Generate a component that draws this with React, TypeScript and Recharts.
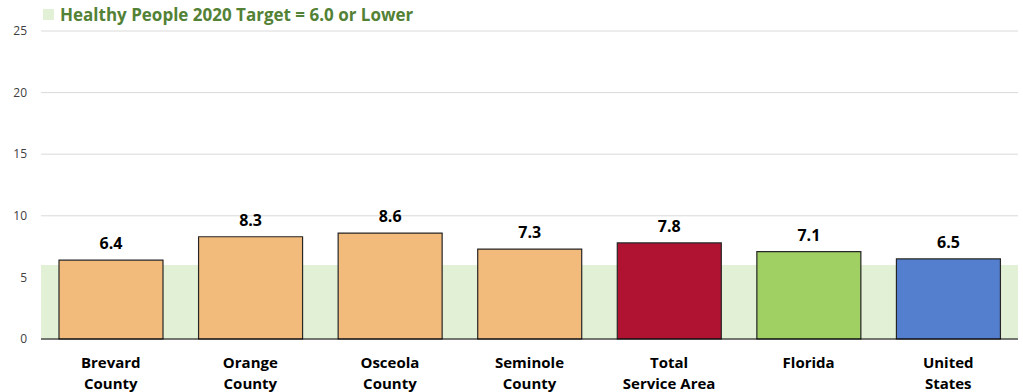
import React from "react";
import {BarChart, Bar, CartesianGrid, Cell, LabelList, ReferenceArea, XAxis, YAxis} from "recharts";

const regions = ["Brevard County", "Orange County", "Osceola County", "Seminole County", "Total Service Area", "Florida", "United States"];
const labelLines = [["Brevard", "County"], ["Orange", "County"], ["Osceola", "County"], ["Seminole", "County"], ["Total", "Service Area"], ["Florida"], ["United", "States"]];
const rates = [6.4, 8.3, 8.6, 7.3, 7.8, 7.1, 6.5];
const barColors = ["#F3BB7B", "#F3BB7B", "#F3BB7B", "#F3BB7B", "#B01232", "#A0D063", "#547FCF"];
const yTicks = [0, 5, 10, 15, 20, 25];
const target = 6;

const data = regions.map((name, i) => ({name, value: rates[i]}));

const FONT = "'Open Sans', 'Noto Sans', sans-serif";

const CategoryTick = (props: any) => {
    const {x, y, index} = props;
    const lines = labelLines[index] || [];
    return <g>
        {lines.map((l, i) => (
            <text key={i} x={x} y={y + 21 + i * 21} textAnchor="middle" fontFamily={FONT}
                  fontSize={15} fontWeight="bold" fill="#000">{l}</text>
        ))}
    </g>
}

const App: React.FC = () => {
    return <div style={{position: "absolute", left: 0, top: 0, width: 1023, height: 392, background: "#fff"}}>
        <div style={{position: "absolute", left: 43, top: 3, display: "flex", alignItems: "center",
            fontFamily: FONT, fontWeight: "bold", fontSize: 17, color: "#538135", zIndex: 2}}>
            <span style={{display: "inline-block", width: 11, height: 11, background: "#E2F0D5", marginRight: 6}} />
            Healthy People 2020 Target = 6.0 or Lower
        </div>
        <BarChart width={1023} height={392} data={data} barSize={104}
                  margin={{top: 31, right: 5, left: 0, bottom: 0}}>
            <CartesianGrid vertical={false} stroke="#D9D9D9" />
            <ReferenceArea y1={0} y2={target} fill="#E2F0D5" fillOpacity={1} stroke="none" ifOverflow="visible" />
            <XAxis dataKey="name" height={53} interval={0} tickLine={false} stroke="#000"
                   tick={<CategoryTick />} />
            <YAxis width={41} domain={[0, 25]} ticks={yTicks} axisLine={false} tickLine={false} tickMargin={8}
                   tick={{fontSize: 12, fill: "#404040", fontFamily: FONT}} />
            <Bar dataKey="value" stroke="#262626" strokeWidth={1.2} isAnimationActive={false}>
                {data.map((d, i) => <Cell key={d.name} fill={barColors[i]} />)}
                <LabelList dataKey="value" position="top" offset={11} formatter={(v: any) => Number(v).toFixed(1)}
                           style={{fontSize: 16, fontWeight: "bold", fill: "#000", fontFamily: FONT}} />
            </Bar>
        </BarChart>
    </div>
}

export default App;
